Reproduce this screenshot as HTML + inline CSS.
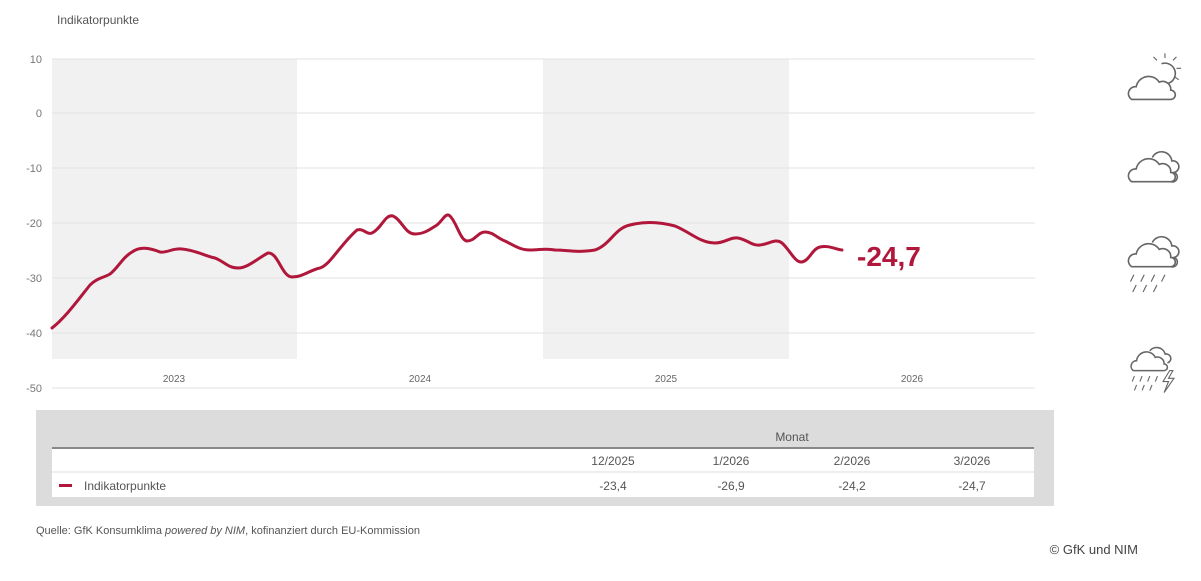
<!DOCTYPE html>
<html><head><meta charset="utf-8"><style>
body{margin:0;background:#fff;font-family:"Liberation Sans",sans-serif;}
</style></head><body>
<svg width="1201" height="576" xmlns="http://www.w3.org/2000/svg" font-family="Liberation Sans, sans-serif">
<rect width="1201" height="576" fill="#fff"/>
<text x="57" y="24" font-size="12" fill="#555">Indikatorpunkte</text>
<rect x="52" y="59" width="245" height="300" fill="#f1f1f1"/>
<rect x="543" y="59" width="246" height="300" fill="#f1f1f1"/>
<g stroke="#e2e2e2" stroke-width="1">
<line x1="52" x2="1035" y1="59" y2="59"/><line x1="52" x2="1035" y1="113" y2="113"/>
<line x1="52" x2="1035" y1="168" y2="168"/><line x1="52" x2="1035" y1="223" y2="223"/>
<line x1="52" x2="1035" y1="278" y2="278"/><line x1="52" x2="1035" y1="333" y2="333"/>
<line x1="52" x2="1035" y1="388" y2="388"/></g>
<g font-size="11" fill="#777" text-anchor="end">
<text x="42" y="63">10</text><text x="42" y="117">0</text><text x="42" y="172">-10</text>
<text x="42" y="227">-20</text><text x="42" y="282">-30</text><text x="42" y="337">-40</text><text x="42" y="392">-50</text></g>
<g font-size="10" fill="#666" text-anchor="middle">
<text x="174" y="382">2023</text><text x="420" y="382">2024</text><text x="666" y="382">2025</text><text x="912" y="382">2026</text></g>
<path d="M52,328 C65,318 78,300 90,285 C97,278 103,278 110,274 C118,268 122,258 132,252 C140,246 150,248 160,252 C168,253 172,248 182,249 C195,250 205,256 215,258 C225,262 228,268 238,268 C248,268 258,258 268,253 C278,252 282,277 292,277 C303,277 310,270 320,268 C330,265 340,245 357,230 C364,228 366,235 372,233 C382,228 385,214 393,216 C402,220 405,234 415,234 C425,234 432,228 437,225 C443,220 446,212 450,216 C457,223 460,240 467,241 C475,241 478,232 485,232 C493,232 497,238 505,241 C515,246 520,250 530,250 C540,250 545,248 555,250 C568,250 575,253 595,250 C610,245 615,228 630,225 C645,221 660,222 675,226 C690,232 700,243 715,243 C725,243 730,237 738,238 C748,240 752,246 760,245 C770,244 775,238 782,243 C790,250 795,263 802,262 C810,260 812,249 820,247 C828,245 835,249 842,250" fill="none" stroke="#b0173a" stroke-width="3" stroke-linecap="round"/>
<text x="857" y="266" font-size="28" font-weight="bold" fill="#b0173a">-24,7</text>
<rect x="36" y="410" width="1018" height="96" fill="#dcdcdc"/>
<rect x="52" y="448" width="982" height="49" fill="#fff"/>
<line x1="52" x2="1034" y1="448" y2="448" stroke="#888" stroke-width="2"/>
<line x1="52" x2="1034" y1="472" y2="472" stroke="#ddd" stroke-width="1"/>
<text x="792" y="441" font-size="12" fill="#555" text-anchor="middle">Monat</text>
<g font-size="12" fill="#555" text-anchor="middle">
<text x="613" y="465">12/2025</text><text x="731" y="465">1/2026</text><text x="852" y="465">2/2026</text><text x="972" y="465">3/2026</text>
<text x="613" y="490">-23,4</text><text x="731" y="490">-26,9</text><text x="852" y="490">-24,2</text><text x="972" y="490">-24,7</text></g>
<rect x="59" y="484" width="13" height="3" fill="#b0173a"/>
<text x="84" y="490" font-size="12" fill="#555">Indikatorpunkte</text>
<text x="36" y="534" font-size="11" fill="#555">Quelle: GfK Konsumklima <tspan font-style="italic">powered by NIM</tspan>, kofinanziert durch EU-Kommission</text>
<text x="1138" y="554" font-size="13" fill="#444" text-anchor="end">© GfK und NIM</text>
<g fill="none" stroke="#666" stroke-width="1.4">
<g transform="translate(1127,58) scale(1.15)">
<path d="M30,5 a8,8 0 1 1 6,17"/>
<g stroke-width="1"><line x1="33" y1="0" x2="33" y2="-4"/><line x1="40" y1="2" x2="43" y2="-1"/><line x1="43" y1="9" x2="47" y2="9"/><line x1="41" y1="16" x2="45" y2="19"/><line x1="26" y1="2" x2="23" y2="-1"/></g>
<path d="M4,36 a6,6 0 0 1 4,-11 a11,11 0 0 1 20,-4 a7,7 0 0 1 10,7 a4,4 0 0 1 0,8 z" fill="#fff"/></g>
<g transform="translate(1127,146) scale(1.15)">
<path d="M22,10 a9,9 0 0 1 17,3 a5,5 0 0 1 2,10 a4,4 0 0 1 -3,8"/>
<path d="M4,31 a6,6 0 0 1 4,-11 a11,11 0 0 1 20,-4 a7,7 0 0 1 10,7 a4,4 0 0 1 0,8 z" fill="#fff"/></g>
<g transform="translate(1127,231) scale(1.15)">
<path d="M22,10 a9,9 0 0 1 17,3 a5,5 0 0 1 2,10 a4,4 0 0 1 -3,8"/>
<path d="M4,31 a6,6 0 0 1 4,-11 a11,11 0 0 1 20,-4 a7,7 0 0 1 10,7 a4,4 0 0 1 0,8 z" fill="#fff"/>
<g stroke-width="1"><path d="M6,38 l-3,6 M15,38 l-3,6 M24,38 l-3,6 M33,38 l-3,6 M8,47 l-3,6 M17,47 l-3,6 M26,47 l-3,6"/></g></g>
<g transform="translate(1130,342) scale(1.1)">
<path d="M18,8 a8,8 0 0 1 14,3 a4,4 0 0 1 2,8"/>
<path d="M3,26 a5,5 0 0 1 3,-9 a9,9 0 0 1 17,-3 a6,6 0 0 1 8,6 a3,3 0 0 1 0,6 z" fill="#fff"/>
<g stroke-width="1"><path d="M4,31 l-2,5 M11,31 l-2,5 M18,31 l-2,5 M25,31 l-2,5 M6,39 l-2,5 M13,39 l-2,5 M20,39 l-2,5"/>
<path d="M36,26 l-6,10 h5 l-4,10 l9,-13 h-5 l4,-7 z"/></g></g>
</g>
</svg>
</body></html>
